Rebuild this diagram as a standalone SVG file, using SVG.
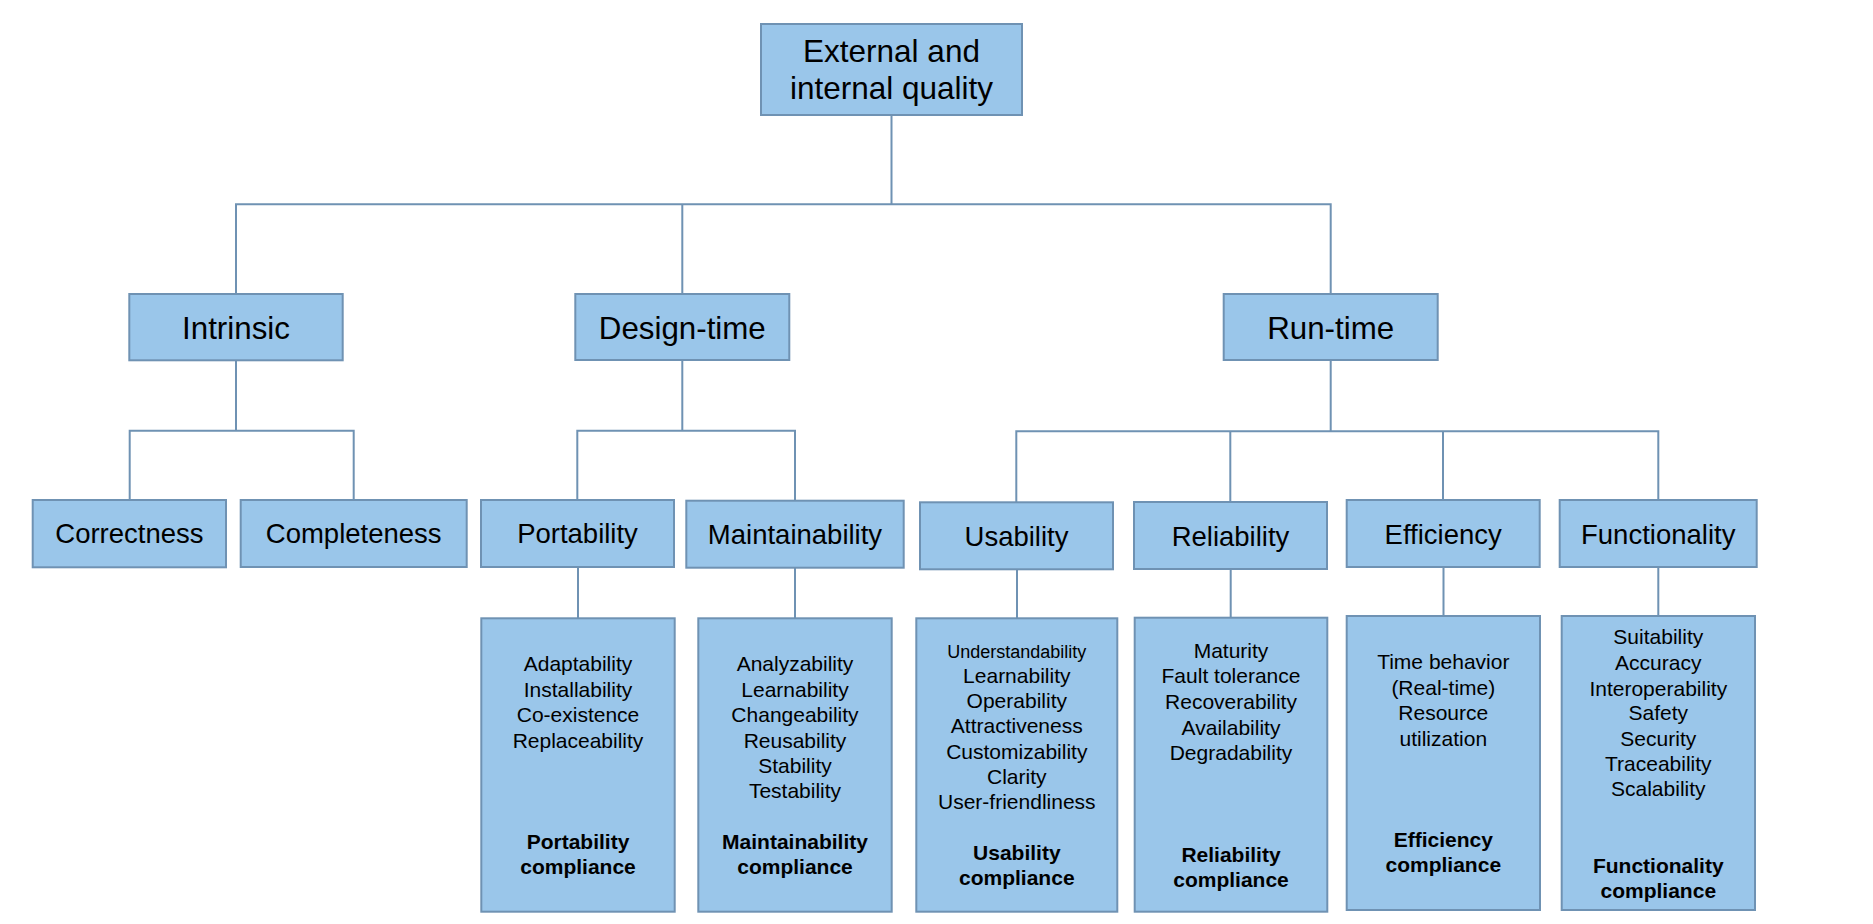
<svg xmlns="http://www.w3.org/2000/svg" width="1873" height="924" viewBox="0 0 1873 924">
<style>
.box{fill:#9AC6EA;stroke:#6F92B3;stroke-width:2}
.ln{fill:none;stroke:#6F92B3;stroke-width:2}
text{font-family:"Liberation Sans",Arial,sans-serif;fill:#000;text-anchor:middle}
.t1{font-size:31.5px}
.t2{font-size:31.3px}
.t3{font-size:27.5px}
.d{font-size:21px}
.ds{font-size:18px}
.b{font-size:21px;font-weight:bold}
</style>
<rect width="1873" height="924" fill="#fff"/>
<g id="connectors">
<path class="ln" d="M891.5 115V204.3M236 294V204.3H1330.7V294M682.3 204.3V294"/>
<path class="ln" d="M236 360V430.7M129.7 500V430.7H353.7V500"/>
<path class="ln" d="M682.3 360V430.7M577.3 500V430.7H795V500.7"/>
<path class="ln" d="M1330.7 360V431.3M1016.3 502.3V431.3H1658.3V500M1230.3 431.3V502M1443 431.3V500"/>
<path class="ln" d="M578 567V618.3M795 567.7V618.3M1017 569.3V618.3M1230.7 569V617.7M1443.5 567V616M1658.3 567V616"/>
</g>
<g id="root">
<rect class="box" x="761" y="24" width="261" height="91"/>
<text class="t1" x="891.5" y="62">External and</text>
<text class="t1" x="891.5" y="99">internal quality</text>
</g>
<g id="intrinsic">
<rect class="box" x="129.3" y="294" width="213.4" height="66.3"/>
<text class="t2" x="236" y="339.3">Intrinsic</text>
</g>
<g id="design-time">
<rect class="box" x="575.3" y="294" width="214" height="66"/>
<text class="t2" x="682.3" y="339">Design-time</text>
</g>
<g id="run-time">
<rect class="box" x="1223.7" y="294" width="214" height="66"/>
<text class="t2" x="1330.7" y="339">Run-time</text>
</g>
<g id="correctness">
<rect class="box" x="32.7" y="500" width="193.3" height="67.3"/>
<text class="t3" x="129.4" y="543.3">Correctness</text>
</g>
<g id="completeness">
<rect class="box" x="240.7" y="500" width="226" height="67"/>
<text class="t3" x="353.7" y="543.3">Completeness</text>
</g>
<g id="portability">
<rect class="box" x="481" y="500" width="193" height="67"/>
<text class="t3" x="577.5" y="543.3">Portability</text>
</g>
<g id="maintainability">
<rect class="box" x="686.3" y="500.7" width="217.4" height="67"/>
<text class="t3" x="795" y="544">Maintainability</text>
</g>
<g id="usability">
<rect class="box" x="920" y="502.3" width="193" height="67"/>
<text class="t3" x="1016.5" y="546">Usability</text>
</g>
<g id="reliability">
<rect class="box" x="1134" y="502" width="193" height="67"/>
<text class="t3" x="1230.5" y="546">Reliability</text>
</g>
<g id="efficiency">
<rect class="box" x="1346.7" y="500" width="193" height="67"/>
<text class="t3" x="1443.2" y="544">Efficiency</text>
</g>
<g id="functionality">
<rect class="box" x="1559.7" y="500" width="197" height="67"/>
<text class="t3" x="1658.2" y="544">Functionality</text>
</g>
<g id="portability-details">
<rect class="box" x="481.3" y="618.3" width="193.4" height="293.4"/>
<text class="d" x="578" y="670.7">Adaptability</text>
<text class="d" x="578" y="696.7">Installability</text>
<text class="d" x="578" y="722.3">Co-existence</text>
<text class="d" x="578" y="747.7">Replaceability</text>
<text class="b" x="578" y="849.3">Portability</text>
<text class="b" x="578" y="874">compliance</text>
</g>
<g id="maintainability-details">
<rect class="box" x="698.3" y="618.3" width="193.4" height="293.4"/>
<text class="d" x="795" y="670.7">Analyzability</text>
<text class="d" x="795" y="696.7">Learnability</text>
<text class="d" x="795" y="722">Changeability</text>
<text class="d" x="795" y="748">Reusability</text>
<text class="d" x="795" y="773.3">Stability</text>
<text class="d" x="795" y="798.3">Testability</text>
<text class="b" x="795" y="849.3">Maintainability</text>
<text class="b" x="795" y="874">compliance</text>
</g>
<g id="usability-details">
<rect class="box" x="916.3" y="618.3" width="201" height="293.4"/>
<text class="ds" x="1016.8" y="658.3">Understandability</text>
<text class="d" x="1016.8" y="682.7">Learnability</text>
<text class="d" x="1016.8" y="708.3">Operability</text>
<text class="d" x="1016.8" y="733.3">Attractiveness</text>
<text class="d" x="1016.8" y="759">Customizability</text>
<text class="d" x="1016.8" y="784.3">Clarity</text>
<text class="d" x="1016.8" y="809.3">User-friendliness</text>
<text class="b" x="1016.8" y="860">Usability</text>
<text class="b" x="1016.8" y="885">compliance</text>
</g>
<g id="reliability-details">
<rect class="box" x="1134.7" y="617.7" width="192.6" height="294"/>
<text class="d" x="1231" y="658.3">Maturity</text>
<text class="d" x="1231" y="683.3">Fault tolerance</text>
<text class="d" x="1231" y="709">Recoverability</text>
<text class="d" x="1231" y="735">Availability</text>
<text class="d" x="1231" y="760">Degradability</text>
<text class="b" x="1231" y="861.7">Reliability</text>
<text class="b" x="1231" y="886.7">compliance</text>
</g>
<g id="efficiency-details">
<rect class="box" x="1346.7" y="616" width="193.3" height="294"/>
<text class="d" x="1443.3" y="669">Time behavior</text>
<text class="d" x="1443.3" y="695">(Real-time)</text>
<text class="d" x="1443.3" y="720">Resource</text>
<text class="d" x="1443.3" y="745.7">utilization</text>
<text class="b" x="1443.3" y="847.3">Efficiency</text>
<text class="b" x="1443.3" y="871.7">compliance</text>
</g>
<g id="functionality-details">
<rect class="box" x="1561.7" y="616" width="193.3" height="294"/>
<text class="d" x="1658.3" y="644.3">Suitability</text>
<text class="d" x="1658.3" y="670">Accuracy</text>
<text class="d" x="1658.3" y="695.7">Interoperability</text>
<text class="d" x="1658.3" y="720">Safety</text>
<text class="d" x="1658.3" y="745.7">Security</text>
<text class="d" x="1658.3" y="771">Traceability</text>
<text class="d" x="1658.3" y="796">Scalability</text>
<text class="b" x="1658.3" y="872.7">Functionality</text>
<text class="b" x="1658.3" y="897.7">compliance</text>
</g>
</svg>
